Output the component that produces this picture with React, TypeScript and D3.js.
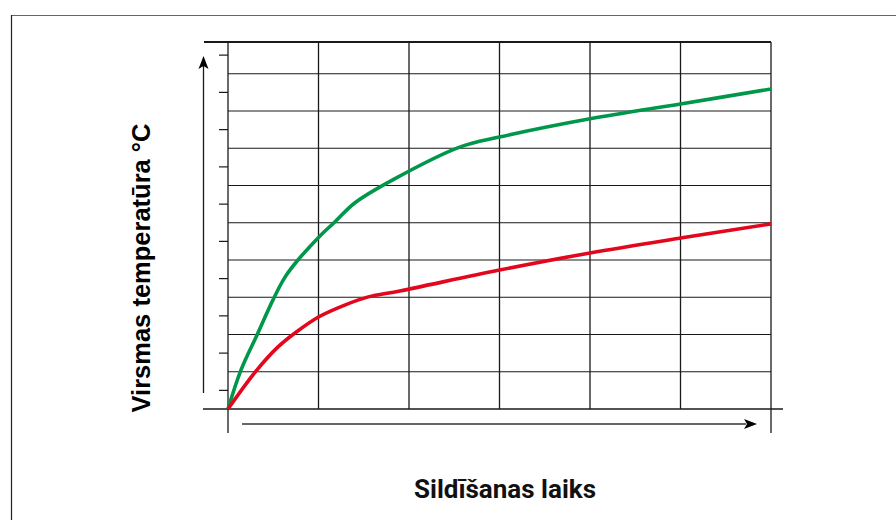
import React from "react";
import * as d3 from "d3";

const greenX = [0, 0.144, 0.331, 0.497, 0.63, 0.773, 1.006, 1.18, 1.4, 1.82, 2.56, 3.0, 4.0, 5.0, 6.0];
const greenY = [0, 1.05, 2.04, 2.93, 3.54, 4.0, 4.62, 5.02, 5.53, 6.15, 7.03, 7.3, 7.79, 8.19, 8.59];
const redX = [0, 0.3, 0.55, 0.74, 1.0, 1.29, 1.55, 1.9, 3.0, 4.0, 5.0, 6.0];
const redY = [0, 0.99, 1.66, 2.04, 2.47, 2.79, 3.01, 3.17, 3.73, 4.19, 4.59, 4.97];
const xGrid = [0, 1, 2, 3, 4, 5, 6];
const yGrid = [1, 2, 3, 4, 5, 6, 7, 8, 9];
const yTicks = [0.5, 1.5, 2.5, 3.5, 4.5, 5.5, 6.5, 7.5, 8.5, 9.5];
const yLabel = "Virsmas temperatūra °C";
const xLabel = "Sildīšanas laiks";

export default function App() {
  const W = 896, H = 520;
  const x = d3.scaleLinear().domain([0, 6]).range([228, 771]);
  const y = d3.scaleLinear().domain([0, 9]).range([409, 73.75]);
  const yTop = 42;
  const line = d3.line<[number, number]>().x(d => x(d[0])).y(d => y(d[1])).curve(d3.curveCatmullRom.alpha(0.5));
  const g = line(greenX.map((v, i) => [v, greenY[i]] as [number, number])) || "";
  const r = line(redX.map((v, i) => [v, redY[i]] as [number, number])) || "";
  const stroke = "#1a1a1a";
  return (
    <svg width={W} height={H} style={{ position: "absolute", left: 0, top: 0 }}>
      <rect x={0} y={0} width={W} height={H} fill="#fff" />
      <line x1={11} y1={15.5} x2={W} y2={15.5} stroke="#666" strokeWidth={1.2} />
      <line x1={11.5} y1={15} x2={11.5} y2={H} stroke="#222" strokeWidth={1.2} />
      {yGrid.map(v => (
        <line key={"hg" + v} x1={x(0)} x2={x(6)} y1={y(v)} y2={y(v)} stroke={stroke} strokeWidth={1.2} />
      ))}
      {xGrid.map(v => (
        <line key={"vg" + v} x1={x(v)} x2={x(v)} y1={yTop} y2={v === 0 || v === 6 ? 433 : y(0)} stroke={stroke} strokeWidth={1.3} />
      ))}
      <line x1={204} x2={x(6)} y1={yTop} y2={yTop} stroke={stroke} strokeWidth={2} />
      <line x1={203} x2={783} y1={y(0)} y2={y(0)} stroke={stroke} strokeWidth={1.5} />
      {yTicks.map(v => (
        <line key={"t" + v} x1={219} x2={x(0)} y1={y(v)} y2={y(v)} stroke={stroke} strokeWidth={1.2} />
      ))}
      <line x1={203.5} x2={203.5} y1={393} y2={66} stroke={stroke} strokeWidth={1.3} />
      <path d="M203.5,56 L198.5,69 L203.5,66 L208.5,69 Z" fill="#000" />
      <line x1={242} x2={746} y1={424} y2={424} stroke="#333" strokeWidth={1.5} />
      <path d="M757,424 L744,419 L747,424 L744,429 Z" fill="#000" />
      <path d={g} fill="none" stroke="#00974a" strokeWidth={3.6} strokeLinejoin="round" />
      <path d={r} fill="none" stroke="#e3071d" strokeWidth={3.6} strokeLinejoin="round" />
      <text x={0} y={0} transform={`translate(150,268) rotate(-90)`} textAnchor="middle"
        fontFamily="Liberation Sans, Arial, sans-serif" fontWeight="bold" fontSize={25.5} fill="#000">{yLabel}</text>
      <text x={505} y={498} textAnchor="middle" fontFamily="Roboto, sans-serif" fontWeight="bold" fontSize={26} fill="#111">{xLabel}</text>
    </svg>
  );
}
